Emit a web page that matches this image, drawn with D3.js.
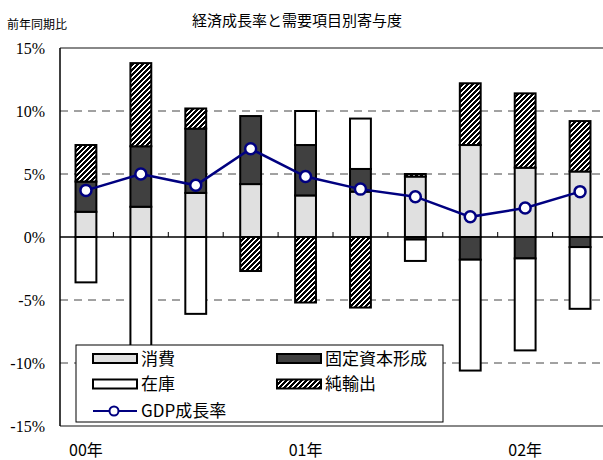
<!DOCTYPE html>
<html>
<head>
<meta charset="utf-8">
<script src="https://cdn.jsdelivr.net/npm/d3@7"></script>
<style>
  body { margin: 0; background: #fff; }
  svg { display: block; }
</style>
</head>
<body>
<svg id="chart" width="603" height="460"></svg>
<script>
// Quarterly contributions to real GDP growth (year-on-year, % points)
const quarters     = ["00Q1", "00Q2", "00Q3", "00Q4", "01Q1", "01Q2", "01Q3", "01Q4", "02Q1", "02Q2"];
const consumption  = [2.0, 2.4, 3.5, 4.2, 3.3, 3.6, 4.8, 7.3, 5.5, 5.2];
const fixedCapital = [2.4, 4.8, 5.1, 5.4, 4.0, 1.8, -0.2, -1.8, -1.7, -0.8];
const inventory    = [-3.6, -8.8, -6.1, 0.0, 2.7, 4.0, -1.7, -8.8, -7.3, -4.9];
const netExports   = [2.9, 6.6, 1.6, -2.7, -5.2, -5.6, 0.2, 4.9, 5.9, 4.0];
const gdpGrowth    = [3.7, 5.0, 4.1, 7.0, 4.8, 3.8, 3.2, 1.6, 2.3, 3.6];

const yearLabels = { "00Q1": "00年", "01Q1": "01年", "02Q1": "02年" };
const yTicks = [-15, -10, -5, 0, 5, 10, 15];

const seriesKeys  = ["consumption", "fixedCapital", "inventory", "netExports"];
const seriesNames = { consumption: "消費", fixedCapital: "固定資本形成", inventory: "在庫", netExports: "純輸出" };
const seriesFill  = { consumption: "#e0e0e0", fixedCapital: "#404040", inventory: "#ffffff", netExports: "url(#hatch)" };

const rows = quarters.map((q, i) => ({
  q,
  consumption: consumption[i],
  fixedCapital: fixedCapital[i],
  inventory: inventory[i],
  netExports: netExports[i],
  gdp: gdpGrowth[i]
}));

const svg = d3.select("#chart");
const W = 603, H = 460;
const plot = { left: 60, right: 607.5, top: 48, bottom: 426 };

const x = d3.scaleBand()
  .domain(quarters)
  .range([58.5, plot.right])
  .paddingInner(0.62)
  .paddingOuter(0.31);

const y = d3.scaleLinear().domain([-15, 15]).range([plot.bottom, plot.top]);

// pixel-stepped "/" hatch for net exports
const P = 5;
const defs = svg.append("defs");
const pat = defs.append("pattern")
  .attr("id", "hatch")
  .attr("patternUnits", "userSpaceOnUse")
  .attr("width", P).attr("height", P);
pat.append("rect").attr("width", P).attr("height", P).attr("fill", "#000");
const cells = [];
for (let i = 0; i < P; i++) for (let j = 0; j < P; j++) if ((i + j) % P >= 3) cells.push([i, j]);
pat.selectAll("rect.px").data(cells).join("rect")
  .attr("class", "px")
  .attr("x", d => d[0]).attr("y", d => d[1])
  .attr("width", 1).attr("height", 1)
  .attr("fill", "#fff")
  .attr("shape-rendering", "crispEdges");

// title and unit
svg.append("text")
  .attr("x", 297).attr("y", 26)
  .attr("text-anchor", "middle")
  .attr("font-family", "Noto Sans CJK JP")
  .attr("font-size", 15)
  .text("経済成長率と需要項目別寄与度");

svg.append("text")
  .attr("x", 7).attr("y", 29)
  .attr("font-family", "Noto Sans CJK JP")
  .attr("font-size", 12)
  .text("前年同期比");

// dashed gridlines
svg.append("g").selectAll("line")
  .data(yTicks.filter(t => t !== 0 && Math.abs(t) !== 15))
  .join("line")
  .attr("x1", plot.left).attr("x2", W)
  .attr("y1", d => y(d)).attr("y2", d => y(d))
  .attr("stroke", "#444").attr("stroke-width", 1)
  .attr("stroke-dasharray", "8,6");

// frame lines at +/-15%
svg.append("g").selectAll("line")
  .data([15, -15])
  .join("line")
  .attr("x1", plot.left).attr("x2", W)
  .attr("y1", d => y(d)).attr("y2", d => y(d))
  .attr("stroke", "#888").attr("stroke-width", 2);

// y axis labels
svg.append("g").selectAll("text")
  .data(yTicks)
  .join("text")
  .attr("x", 45).attr("y", d => y(d))
  .attr("dy", "0.35em")
  .attr("text-anchor", "end")
  .attr("font-family", "Liberation Serif, serif")
  .attr("font-size", 16)
  .text(d => d + "%");

// stacked bars
const stack = d3.stack().keys(seriesKeys).offset(d3.stackOffsetDiverging);
const stacked = stack(rows);

svg.append("g").selectAll("g")
  .data(stacked)
  .join("g")
  .attr("fill", d => seriesFill[d.key])
  .selectAll("rect")
  .data(d => d.filter(s => s[1] - s[0] !== 0))
  .join("rect")
  .attr("x", d => x(d.data.q))
  .attr("width", x.bandwidth())
  .attr("y", d => y(Math.max(d[0], d[1])))
  .attr("height", d => Math.abs(y(d[0]) - y(d[1])))
  .attr("stroke", "#000")
  .attr("stroke-width", 2);

// zero line and quarter ticks
svg.append("line")
  .attr("x1", plot.left).attr("x2", W)
  .attr("y1", y(0)).attr("y2", y(0))
  .attr("stroke", "#000").attr("stroke-width", 1.5);

svg.append("g").selectAll("line")
  .data(quarters.slice(0, -1))
  .join("line")
  .attr("x1", d => x(d) + x.bandwidth() / 2 + x.step() / 2)
  .attr("x2", d => x(d) + x.bandwidth() / 2 + x.step() / 2)
  .attr("y1", y(0)).attr("y2", y(0) - 5)
  .attr("stroke", "#000").attr("stroke-width", 1);

// left axis line
svg.append("line")
  .attr("x1", plot.left).attr("x2", plot.left)
  .attr("y1", y(15)).attr("y2", y(-15))
  .attr("stroke", "#000").attr("stroke-width", 1.5);

// x labels at each year's first quarter
svg.append("g").selectAll("text")
  .data(quarters.filter(q => yearLabels[q]))
  .join("text")
  .attr("x", d => x(d) + x.bandwidth() / 2)
  .attr("y", 456)
  .attr("text-anchor", "middle")
  .attr("font-family", "Noto Sans CJK JP")
  .attr("font-size", 16)
  .text(d => yearLabels[d]);

// GDP growth line
const line = d3.line()
  .x(d => x(d.q) + x.bandwidth() / 2)
  .y(d => y(d.gdp));

svg.append("path")
  .datum(rows)
  .attr("d", line)
  .attr("fill", "none")
  .attr("stroke", "#000080")
  .attr("stroke-width", 2.5);

svg.append("g").selectAll("circle")
  .data(rows)
  .join("circle")
  .attr("cx", d => x(d.q) + x.bandwidth() / 2)
  .attr("cy", d => y(d.gdp))
  .attr("r", 5.5)
  .attr("fill", "#fff")
  .attr("stroke", "#000080")
  .attr("stroke-width", 2.5);

// legend
const lg = svg.append("g");
lg.append("rect")
  .attr("x", 76).attr("y", 345)
  .attr("width", 367).attr("height", 77)
  .attr("fill", "#fff").attr("stroke", "#000").attr("stroke-width", 1);

const legendItems = [
  { key: "consumption", col: 0, row: 0 },
  { key: "fixedCapital", col: 1, row: 0 },
  { key: "inventory", col: 0, row: 1 },
  { key: "netExports", col: 1, row: 1 }
];
const colX = [93, 277];
const rowY = [358.5, 384, 411];

legendItems.forEach(it => {
  lg.append("rect")
    .attr("x", colX[it.col]).attr("y", rowY[it.row] - 4.5)
    .attr("width", 44).attr("height", 9)
    .attr("fill", seriesFill[it.key])
    .attr("stroke", "#000").attr("stroke-width", 2);
  lg.append("text")
    .attr("x", colX[it.col] + 48).attr("y", rowY[it.row])
    .attr("dy", "0.36em")
    .attr("font-family", "Noto Sans CJK JP")
    .attr("font-size", 17)
    .text(seriesNames[it.key]);
});

lg.append("line")
  .attr("x1", colX[0]).attr("x2", colX[0] + 44)
  .attr("y1", rowY[2]).attr("y2", rowY[2])
  .attr("stroke", "#000080").attr("stroke-width", 2);
lg.append("circle")
  .attr("cx", colX[0] + 21).attr("cy", rowY[2])
  .attr("r", 4.5)
  .attr("fill", "#fff").attr("stroke", "#000080").attr("stroke-width", 2);
lg.append("text")
  .attr("x", colX[0] + 48).attr("y", rowY[2])
  .attr("dy", "0.36em")
  .attr("font-family", "Noto Sans CJK JP")
  .attr("font-size", 17)
  .text("GDP成長率");
</script>
</body>
</html>
